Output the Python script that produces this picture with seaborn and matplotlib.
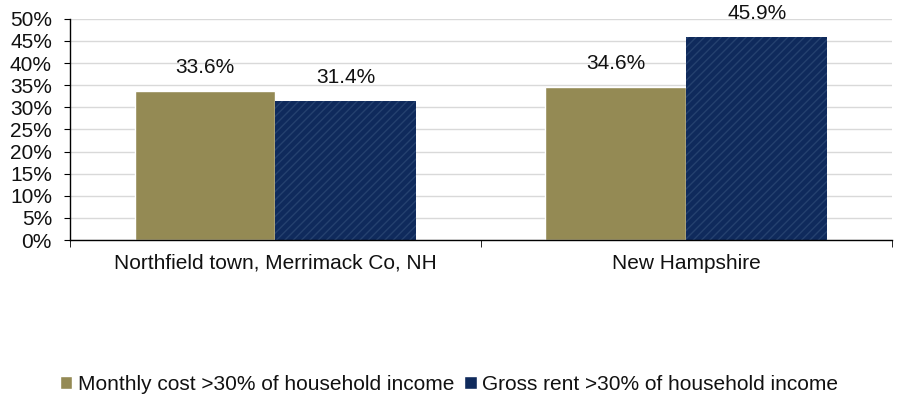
import pandas as pd
import numpy as np
import matplotlib.pyplot as plt
import seaborn as sns
from matplotlib.ticker import FixedLocator, PercentFormatter

# Datos
categories = ["Northfield town, Merrimack Co, NH", "New Hampshire"]
series = ["Monthly cost >30% of household income", "Gross rent >30% of household income"]
monthly_cost = [33.6, 34.6]
gross_rent = [31.4, 45.9]

df = pd.DataFrame({
    "category": categories * 2,
    "series": [series[0]] * 2 + [series[1]] * 2,
    "value": monthly_cost + gross_rent,
})

sns.set_style("white")
plt.rcParams['font.family'] = ['Liberation Sans', 'DejaVu Sans']
plt.rcParams['hatch.linewidth'] = 1.0

fig = plt.figure(figsize=(8.98, 4.09), dpi=100)
ax = fig.add_axes([0.078, 0.413, 0.915, 0.541])

palette = {series[0]: "#948A54", series[1]: "#0F2A5C"}
sns.barplot(data=df, x="category", y="value", hue="series", palette=palette,
            width=0.686, saturation=1, ax=ax, legend=True)

# Rayado en la serie azul
for bar in ax.containers[1]:
    bar.set_hatch("////")
    bar.set_edgecolor("#25416F")
    bar.set_linewidth(0)

# Etiquetas de valores
for cont in ax.containers:
    for bar in cont:
        h = bar.get_height()
        ax.annotate(f"{h:.1f}%", (bar.get_x() + bar.get_width() / 2, h),
                    xytext=(0, 17), textcoords="offset points",
                    ha="center", va="center", fontsize=15, color="#111111")

ax.set_ylim(0, 50)
ax.set_xlim(-0.5, 1.5)
ax.set_yticks(np.arange(0, 51, 5))
ax.yaxis.set_major_formatter(PercentFormatter(decimals=0))
ax.yaxis.grid(True, color="#D9D9D9", linewidth=1)
ax.set_axisbelow(True)
ax.set_xlabel("")
ax.set_ylabel("")

ax.xaxis.set_minor_locator(FixedLocator([-0.5, 0.5, 1.5]))
ax.tick_params(axis="x", which="major", length=0, pad=10, labelsize=15, labelcolor="#111111")
ax.tick_params(axis="x", which="minor", length=5, direction="out", color="black", bottom=True)
ax.tick_params(axis="y", length=4, direction="out", color="black", left=True,
               labelsize=15, pad=9, labelcolor="#111111")

for s in ["top", "right"]:
    ax.spines[s].set_visible(False)
for s in ["left", "bottom"]:
    ax.spines[s].set_color("black")
    ax.spines[s].set_linewidth(1)

handles, labels = ax.get_legend_handles_labels()
ax.legend_.remove()
fig.legend(handles, labels, loc="center", bbox_to_anchor=(0.5, 0.06), ncol=2,
           frameon=False, fontsize=15, handlelength=0.6, handleheight=0.6,
           handletextpad=0.25, columnspacing=0.5, labelcolor="#111111")

fig.savefig("out.png", dpi=100)
